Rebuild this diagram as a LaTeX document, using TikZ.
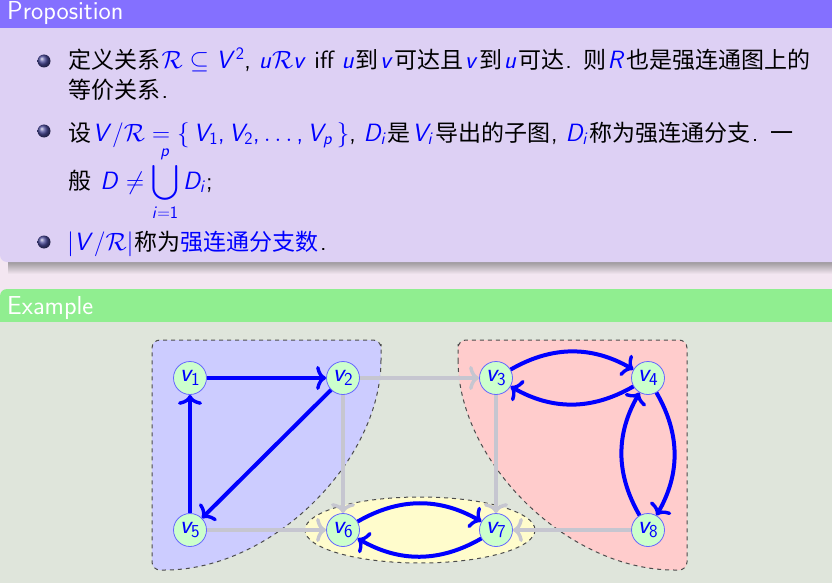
\documentclass[tikz,border=0pt]{standalone}
\usepackage{fix-cm}
\usepackage{exscale}
\usepackage[no-math]{fontspec}
\renewcommand\familydefault{\sfdefault}
\newfontfamily\zhfont[Scale=0.92]{Noto Sans CJK SC}
\newcommand\zh[1]{\kern1.2pt{\zhfont #1}\kern1.2pt}
% sans letters in math, as on a slide
\DeclareSymbolFont{sfit}{OT1}{cmss}{m}{sl}
\DeclareSymbolFont{sfup}{OT1}{cmss}{m}{n}
\DeclareMathSymbol{V}{\mathalpha}{sfit}{`V}
\DeclareMathSymbol{D}{\mathalpha}{sfit}{`D}
\DeclareMathSymbol{R}{\mathalpha}{sfit}{`R}
\DeclareMathSymbol{u}{\mathalpha}{sfit}{`u}
\DeclareMathSymbol{v}{\mathalpha}{sfit}{`v}
\DeclareMathSymbol{i}{\mathalpha}{sfit}{`i}
\DeclareMathSymbol{p}{\mathalpha}{sfit}{`p}
\DeclareMathSymbol{1}{\mathalpha}{sfup}{`1}
\DeclareMathSymbol{2}{\mathalpha}{sfup}{`2}
\DeclareMathSymbol{3}{\mathalpha}{sfup}{`3}
\DeclareMathSymbol{4}{\mathalpha}{sfup}{`4}
\DeclareMathSymbol{5}{\mathalpha}{sfup}{`5}
\DeclareMathSymbol{6}{\mathalpha}{sfup}{`6}
\DeclareMathSymbol{7}{\mathalpha}{sfup}{`7}
\DeclareMathSymbol{8}{\mathalpha}{sfup}{`8}
\DeclareMathSymbol{,}{\mathpunct}{sfup}{`,}
\DeclareMathSymbol{/}{\mathord}{sfup}{`/}
\usetikzlibrary{arrows.meta,calc,positioning,shapes.geometric}
\definecolor{prophead}{HTML}{8470FF}
\definecolor{propbody}{HTML}{DDD0F4}
\definecolor{pagebg}{HTML}{F3E6F1}
\definecolor{exhead}{HTML}{90EE90}
\definecolor{exbody}{HTML}{DFE5DB}
\definecolor{ballc}{HTML}{4A4A9A}
\definecolor{softgray}{HTML}{C6C6D0}
\tikzset{>=Latex,
  every node/.style={font=\fontsize{25}{29}\selectfont},
  line/.style={anchor=base west,inner sep=0pt},
  head/.style={anchor=base west,inner sep=0pt,text=white,font=\fontsize{26}{30}\selectfont},
  bul/.style={ball color=ballc},
  region/.style={draw=black!70,dashed,dash pattern=on 4pt off 4pt,line width=1pt},
  vtx/.style={circle,draw=blue!60,fill=green!20,line width=.8pt,minimum size=33pt,inner sep=0pt,
    text=blue,font=\fontsize{26}{30}\selectfont},
  hard/.style={draw=blue,line width=4pt,-{To[length=10pt,width=24pt,line width=3.4pt]}},
  soft/.style={draw=softgray,line width=4.5pt,-{To[length=10pt,width=24pt,line width=3.4pt]}}}
\newcommand\bl[1]{\textcolor{blue}{$#1$}}
\begin{document}
\begin{tikzpicture}[x=1pt,y=-1pt]
\useasboundingbox (0,0) rectangle (832,583);
\fill[pagebg] (0,0) rectangle (832,583);
% Proposition block
\shade[top color=black!55,bottom color=pagebg] (8,256) rectangle (840,274);
\fill[propbody,rounded corners=7] (0,-20) rectangle (850,262);
\fill[prophead] (0,-20) rectangle (850,28);
\node[head] (ptitle) at (7,20) {Proposition};
\foreach \y in {61,131,242}{\shade[bul] (44,\y) circle (6.5);}
\node[line] (l1) at (67,69) {\zh{定义关系}\bl{\mathcal{R}\subseteq V^2}, \bl{u\mathcal{R}v} iff \bl{u}\zh{到}\bl{v}\zh{可达且}\bl{v}\zh{到}\bl{u}\zh{可达}. \zh{则}\bl{R}\zh{也是强连通图上的}};
\node[line] (l2) at (67,99) {\zh{等价关系}.};
\node[line] (l3) at (67,141) {\zh{设}\bl{V/\mathcal{R}=\{\,V_1,V_2,\ldots,V_p\,\}}, \bl{D_i}\zh{是}\bl{V_i}\zh{导出的子图}, \bl{D_i}\zh{称为强连通分支}. \zh{一}};
\node[line] (l4) at (67,189) {\zh{般}\ \bl{\displaystyle D\neq\bigcup_{i=1}^{p}D_i};};
\node[line] (l5) at (67,250) {\bl{|V/\mathcal{R}|}\zh{称为\textcolor{blue}{强连通分支数}}.};
% Example block
\fill[exhead,rounded corners=7] (0,289) rectangle (850,340);
\fill[exbody] (0,322) rectangle (850,600);
\node[head] (etitle) at (7,314) {Example};
% components
\draw[region,fill=blue!20] (381,352) .. controls (381,461) and (272,570) .. (165,570)
  [rounded corners=8] -- (152,570) -- (152,340) -- (381,340) -- cycle;
\draw[region,fill=red!20] (458,352) .. controls (458,461) and (567,570) .. (674,570)
  [rounded corners=8] -- (687,570) -- (687,340) -- (458,340) -- cycle;
\draw[region,fill=yellow!20] (420,530) ellipse [x radius=115,y radius=33];
% vertices
\foreach \n/\x/\y in {1/190/378,2/343/378,3/496/378,4/648/378,5/190/530,6/343/530,7/496/530,8/648/530}
  \node[vtx] (v\n) at (\x,\y) {$v_\n$};
% edges
\foreach \a/\b in {2/3,2/6,3/7,5/6,8/7}
  \draw[soft] (v\a) -- (v\b);
\foreach \a/\b in {1/2,2/5,5/1}
  \draw[hard] (v\a) -- (v\b);
\foreach \a/\b in {3/4,4/3,4/8,8/4,6/7,7/6}
  \draw[hard] (v\a) to[bend left=30] (v\b);
\end{tikzpicture}
\end{document}
